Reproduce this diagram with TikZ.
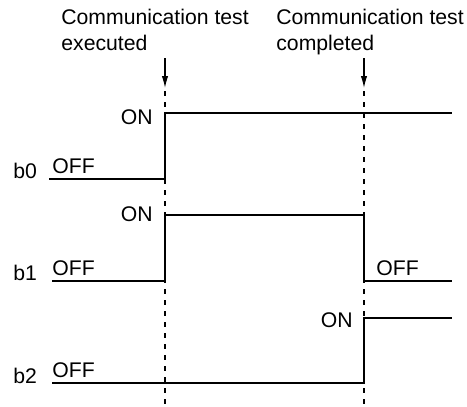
\documentclass[tikz,border=0pt]{standalone}
\usepackage{fontspec}
\setmainfont{Liberation Sans}
\usetikzlibrary{arrows.meta}

\begin{document}
\begin{tikzpicture}[x=0.5pt,y=-0.5pt,
    signal/.style={line width=0.65pt},
    marker/.style={line width=0.6pt,dash pattern=on 2.5pt off 3pt},
    pointer/.style={line width=0.6pt,-{Latex[length=6pt,width=3.2pt]}},
    lbl/.style={inner sep=0pt,font=\fontsize{10.6}{13}\selectfont}]
  \useasboundingbox (0,0) rectangle (467,407);
  % time markers
  \coordinate (exec) at (165,58);
  \coordinate (done) at (364,58);
  \node[lbl,anchor=north west,align=left] (execlbl) at (61,9)
    {Communication test\\executed};
  \node[lbl,anchor=north west,align=left] (donelbl) at (276,9)
    {Communication test\\completed};
  \draw[pointer] (exec) -- ++(0,30);
  \draw[pointer] (done) -- ++(0,30);
  \draw[marker] (165,91) -- (165,407);
  \draw[marker] (364,91) -- (364,407);
  % b0
  \node[lbl,anchor=base west] (b0) at (13,178) {b0};
  \node[lbl,anchor=base west] (b0off) at (52,173) {OFF};
  \node[lbl,anchor=base east] (b0on) at (153,124) {ON};
  \draw[signal] (49,179) -- (165,179) -- (165,113) -- (452,113);
  % b1
  \node[lbl,anchor=base west] (b1) at (13,280) {b1};
  \node[lbl,anchor=base west] (b1off) at (52,275) {OFF};
  \node[lbl,anchor=base east] (b1on) at (153,221) {ON};
  \node[lbl,anchor=base west] (b1offb) at (376,275) {OFF};
  \draw[signal] (52,281) -- (165,281) -- (165,215) -- (364,215)
    -- (364,281) -- (452,281);
  % b2
  \node[lbl,anchor=base west] (b2) at (13,383) {b2};
  \node[lbl,anchor=base west] (b2off) at (52,377) {OFF};
  \node[lbl,anchor=base east] (b2on) at (353,327) {ON};
  \draw[signal] (52,383) -- (364,383) -- (364,318) -- (452,318);
\end{tikzpicture}
\end{document}
